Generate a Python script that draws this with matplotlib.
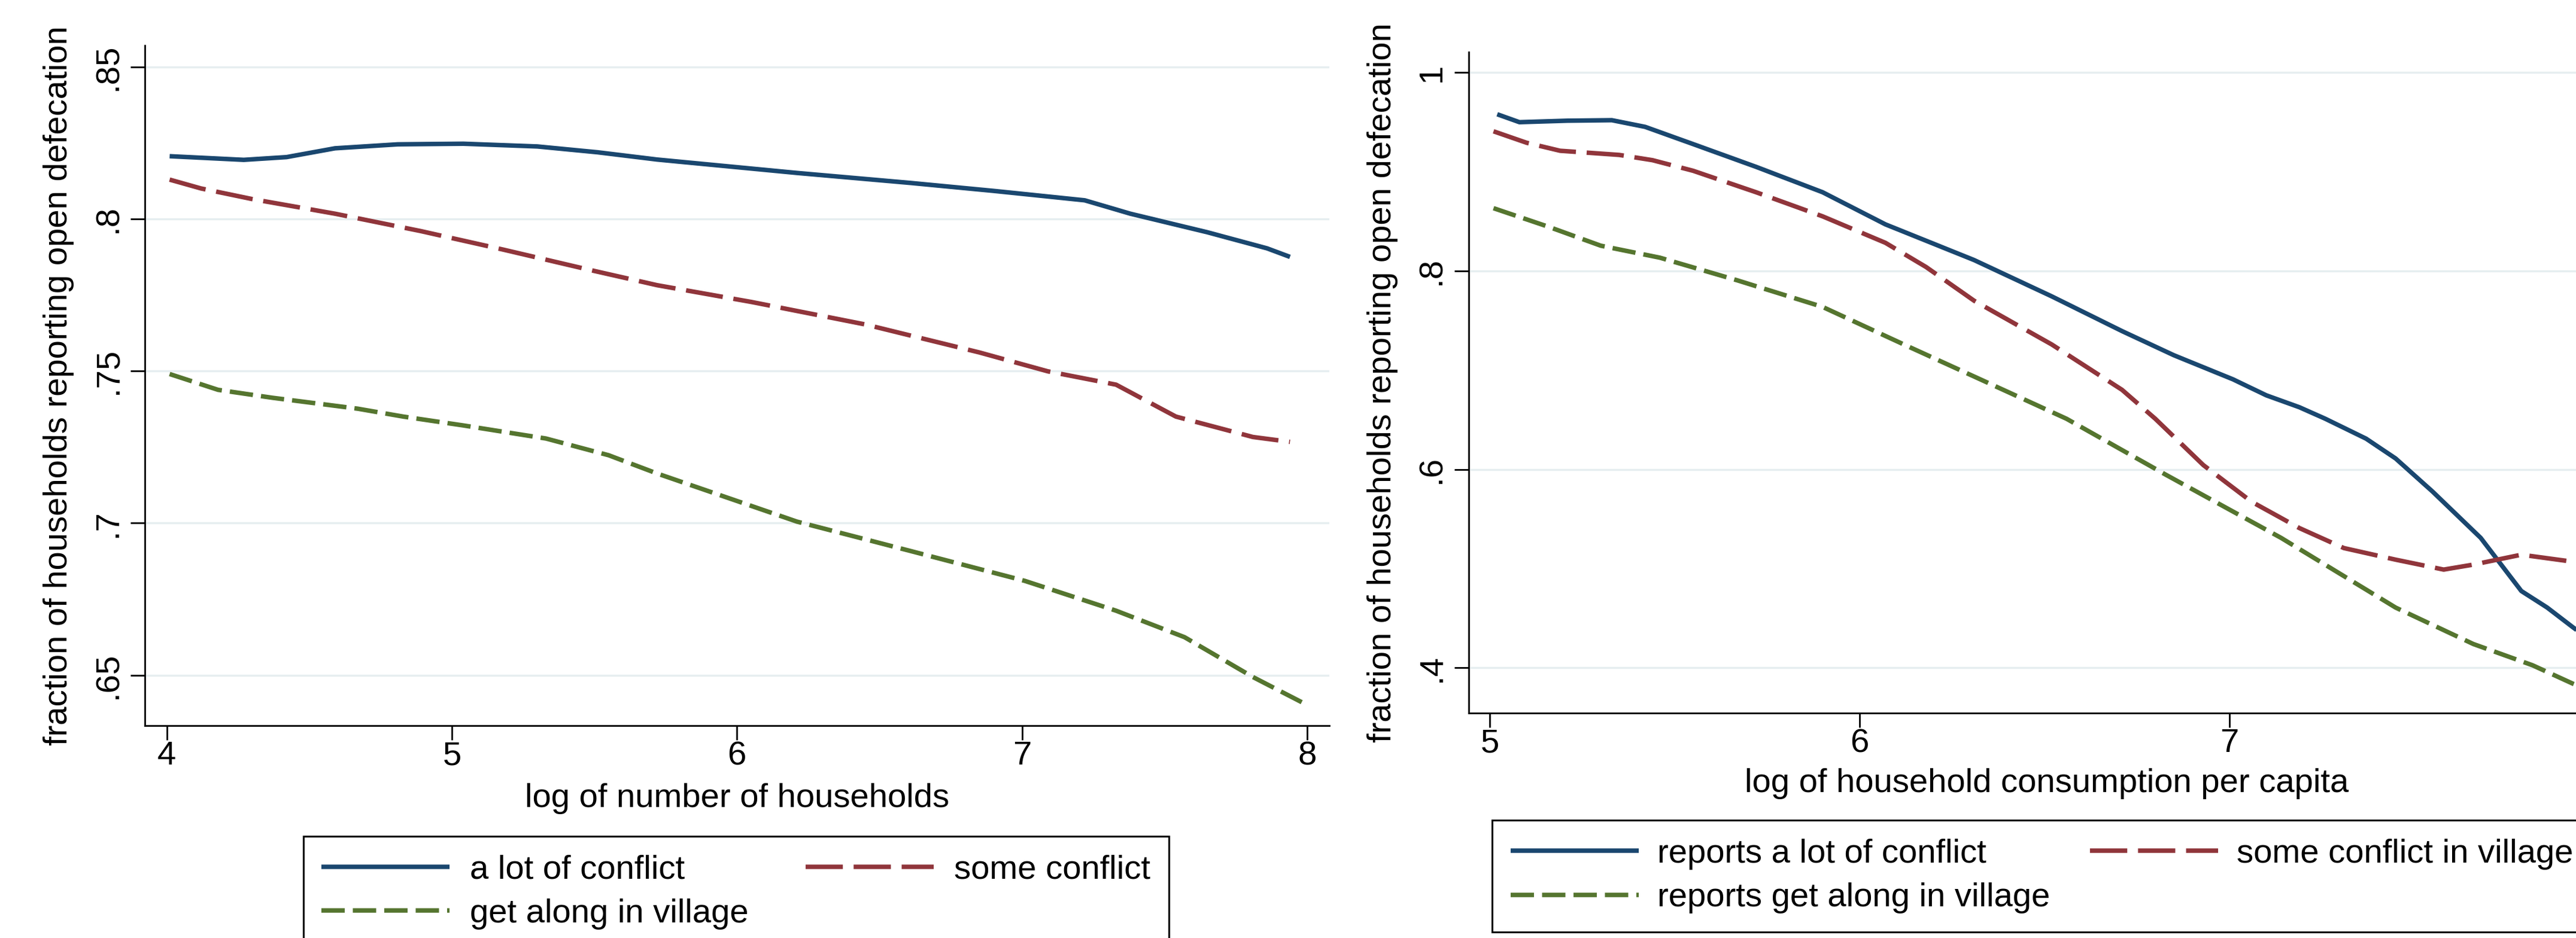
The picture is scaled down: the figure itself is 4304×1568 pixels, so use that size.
import matplotlib.pyplot as plt

plt.rcParams['font.family'] = ['Liberation Sans', 'DejaVu Sans']
plt.rcParams['font.size'] = 40.5

# left panel: log of number of households
hh_lot_x = [4.01, 4.27, 4.42, 4.59, 4.81, 5.04, 5.30, 5.51, 5.72, 6.21, 6.61, 6.90, 7.22, 7.38, 7.65, 7.86, 7.94]
hh_lot_y = [0.8206, 0.8194, 0.8203, 0.8232, 0.8245, 0.8247, 0.8238, 0.8219, 0.8195, 0.8151, 0.8118, 0.8092, 0.8061, 0.8017, 0.7956, 0.7903, 0.7875]
hh_some_x = [4.01, 4.12, 4.30, 4.59, 4.89, 5.18, 5.48, 5.72, 6.05, 6.45, 6.85, 7.09, 7.33, 7.54, 7.81, 7.94]
hh_some_y = [0.8129, 0.8100, 0.8065, 0.8017, 0.7960, 0.7899, 0.7833, 0.7782, 0.7727, 0.7653, 0.7561, 0.7499, 0.7455, 0.7350, 0.7283, 0.7267]
hh_along_x = [4.01, 4.18, 4.37, 4.67, 4.83, 5.04, 5.33, 5.55, 5.72, 6.21, 6.61, 7.01, 7.33, 7.57, 7.81, 7.99]
hh_along_y = [0.7490, 0.7438, 0.7412, 0.7376, 0.7350, 0.7321, 0.7278, 0.7223, 0.7163, 0.7005, 0.6908, 0.6810, 0.6712, 0.6625, 0.6494, 0.6407]

# right panel: log of household consumption per capita
pc_lot_x = [5.02, 5.08, 5.21, 5.33, 5.42, 5.55, 5.72, 5.90, 6.07, 6.31, 6.52, 6.71, 6.85, 7.01, 7.10, 7.19, 7.26, 7.37, 7.45, 7.55, 7.68, 7.79, 7.86, 7.93, 7.97]
pc_lot_y = [0.958, 0.950, 0.9515, 0.952, 0.9453, 0.9279, 0.905, 0.8794, 0.847, 0.811, 0.7744, 0.7394, 0.7151, 0.6908, 0.6747, 0.6626, 0.651, 0.631, 0.611, 0.5776, 0.531, 0.4774, 0.4607, 0.4407, 0.430]
pc_some_x = [5.01, 5.10, 5.19, 5.35, 5.44, 5.55, 5.72, 5.90, 6.07, 6.18, 6.31, 6.52, 6.71, 6.80, 6.93, 7.06, 7.19, 7.31, 7.45, 7.58, 7.66, 7.79, 7.93, 7.97]
pc_some_y = [0.9408, 0.9292, 0.9212, 0.917, 0.9117, 0.901, 0.8794, 0.8551, 0.8284, 0.804, 0.770, 0.7259, 0.6802, 0.651, 0.6043, 0.5675, 0.5408, 0.5207, 0.509, 0.499, 0.504, 0.514, 0.5069, 0.505]
pc_along_x = [5.01, 5.16, 5.30, 5.46, 5.67, 5.90, 6.12, 6.31, 6.56, 6.83, 7.14, 7.45, 7.66, 7.82, 7.93, 7.97]
pc_along_y = [0.8633, 0.8444, 0.8255, 0.8134, 0.7905, 0.7638, 0.7259, 0.6936, 0.651, 0.5943, 0.531, 0.4607, 0.424, 0.4026, 0.3839, 0.378]

left_yticks = [0.65, 0.7, 0.75, 0.8, 0.85]
left_ylabels = ['.65', '.7', '.75', '.8', '.85']
left_xticks = [4, 5, 6, 7, 8]
right_yticks = [0.4, 0.6, 0.8, 1.0]
right_ylabels = ['.4', '.6', '.8', '1']
right_xticks = [5, 6, 7]  # the 8 tick falls outside the saved area

navy = '#1a476f'
maroon = '#90353b'
green = '#55752f'
grid_col = '#e6eef0'

fig = plt.figure(figsize=(43.04, 15.68), dpi=100)
ax1 = fig.add_axes([0.05623, 0.22666, 0.45981, 0.72487])
ax2 = fig.add_axes([0.57017, 0.24005, 0.44865, 0.70446])


def draw(ax, lot, some, along, labels):
    l1, = ax.plot(lot[0], lot[1], color=navy, lw=5.4, solid_capstyle='butt', label=labels[0])
    l2, = ax.plot(some[0], some[1], color=maroon, lw=5.4, dashes=(8.3, 2.4), label=labels[1])
    l3, = ax.plot(along[0], along[1], color=green, lw=5.4, dashes=(5.2, 1.8), label=labels[2])
    return [l1, l3, l2]


h1 = draw(ax1, (hh_lot_x, hh_lot_y), (hh_some_x, hh_some_y), (hh_along_x, hh_along_y),
          ['a lot of conflict', 'some conflict', 'get along in village'])
h2 = draw(ax2, (pc_lot_x, pc_lot_y), (pc_some_x, pc_some_y), (pc_along_x, pc_along_y),
          ['reports a lot of conflict', 'some conflict in village', 'reports get along in village'])

ax1.set_xlim(3.923, 8.078)
ax1.set_ylim(0.6335, 0.857)
ax2.set_xlim(4.943, 8.069)
ax2.set_ylim(0.3546, 1.0207)

ax1.set_xticks(left_xticks)
ax1.set_yticks(left_yticks, left_ylabels, rotation=90, va='center')
ax2.set_xticks(right_xticks)
ax2.set_yticks(right_yticks, right_ylabels, rotation=90, va='center')

ax1.set_xlabel('log of number of households', labelpad=14)
ax2.set_xlabel('log of household consumption per capita', labelpad=11)

for ax in (ax1, ax2):
    ax.set_ylabel('fraction of households reporting open defecation', labelpad=22)
    ax.spines['top'].set_visible(False)
    ax.spines['right'].set_visible(False)
    ax.spines['left'].set_linewidth(2)
    ax.spines['bottom'].set_linewidth(2)
    ax.tick_params(axis='both', direction='out', length=17.3, width=2, color='black')
    ax.tick_params(axis='x', pad=1)
    ax.tick_params(axis='y', pad=8)
    ax.yaxis.grid(True, color=grid_col, linewidth=2.5)
    ax.set_axisbelow(True)

leg_opts = dict(loc='upper left', bbox_transform=fig.transFigure, ncol=2, frameon=True,
                fancybox=False, edgecolor='black', framealpha=1, borderpad=0.55,
                borderaxespad=0, handlelength=3.8, labelspacing=0.38)
leg1 = ax1.legend(handles=h1, bbox_to_anchor=(506.5 / 4304, 1 - 1397.5 / 1568),
                  columnspacing=1.7, handletextpad=0.6, **leg_opts)
leg2 = ax2.legend(handles=h2, bbox_to_anchor=(2493 / 4304, 1 - 1371 / 1568),
                  columnspacing=1.2, handletextpad=0.55, **leg_opts)
for leg in (leg1, leg2):
    leg.get_frame().set_linewidth(2.2)

fig.savefig('out.png', dpi=100)
